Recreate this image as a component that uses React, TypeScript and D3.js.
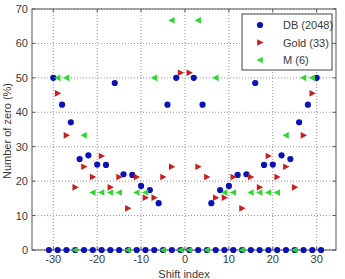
import React from "react";
import * as d3 from "d3";

const dbIdx = [-30, -28, -26, -24, -22, -20, -18, -16, -14, -12, -10, -8, -6, -4, -2, 2, 4, 6, 8, 10, 12, 14, 16, 18, 20, 22, 24, 26, 28, 30];
const dbVals = [50, 42.2, 37.1, 26.4, 27.5, 24.8, 24.7, 48.5, 22.0, 21.8, 18.6, 17.4, 13.6, 42.2, 50, 50, 42.2, 13.6, 17.4, 18.6, 21.8, 22.0, 48.5, 24.7, 24.8, 27.5, 26.4, 37.1, 42.2, 50];
const dbZeroIdx = [-31, -29, -27, -25, -23, -21, -19, -17, -15, -13, -11, -9, -7, -5, -3, -1, 1, 3, 5, 7, 9, 11, 13, 15, 17, 19, 21, 23, 25, 27, 29, 31];

const goldIdx = [-29, -27, -25, -23, -21, -19, -17, -15, -13, -11, -9, -7, -5, -3, -1, 1, 3, 5, 7, 9, 11, 13, 15, 17, 19, 21, 23, 25, 27, 29];
const goldVals = [45.5, 33.3, 18.2, 24.2, 21.2, 27.3, 18.2, 21.2, 12.1, 21.2, 15.2, 15.2, 21.2, 24.2, 51.5, 51.5, 24.2, 21.2, 15.2, 15.2, 21.2, 12.1, 21.2, 18.2, 27.3, 21.2, 24.2, 18.2, 33.3, 45.5];

const mIdx = [-29, -27, -25, -23, -21, -19, -17, -15, -13, -11, -9, -7, -5, -3, -1, 1, 3, 5, 7, 9, 11, 13, 15, 17, 19, 21, 23, 25, 27, 29];
const mVals = [50, 50, 0, 33.3, 16.7, 16.7, 16.7, 16.7, 0, 16.7, 16.7, 50, 0, 66.7, 0, 0, 66.7, 0, 50, 16.7, 16.7, 0, 16.7, 16.7, 16.7, 16.7, 33.3, 0, 50, 50];

const xTicks = [-30, -20, -10, 0, 10, 20, 30];
const yTicks = [0, 10, 20, 30, 40, 50, 60, 70];
const legendLabels = ["DB (2048)", "Gold (33)", "M (6)"];

const BLUE = "#0a12b8";
const RED = "#c81e1e";
const GREEN = "#2ed82e";

const L = 32, R = 336, T = 9, B = 250;
const font = "'Liberation Sans', Arial, Helvetica, sans-serif";

const Dot = ({ x, y }: { x: number; y: number }) => <circle cx={x} cy={y} r={3.1} fill={BLUE} />;
const TriR = ({ x, y }: { x: number; y: number }) => (
  <path d={`M${x - 2.8},${y - 3.3}L${x + 3.5},${y}L${x - 2.8},${y + 3.3}Z`} fill={RED} />
);
const TriL = ({ x, y }: { x: number; y: number }) => (
  <path d={`M${x + 2.8},${y - 3.3}L${x - 3.5},${y}L${x + 2.8},${y + 3.3}Z`} fill={GREEN} />
);

export default function App() {
  const x = d3.scaleLinear().domain([-34.85, 34.4]).range([L, R]);
  const y = d3.scaleLinear().domain([0, 70]).range([B, T]);
  const axisColor = "#555";
  const textColor = "#3a3a3a";
  const tl = 3;
  return (
    <svg width={345} height={279} style={{ position: "absolute", left: 0, top: 0, background: "#fff" }}>
      <rect x={0} y={0} width={345} height={279} fill="#fff" />
      {xTicks.map((t) => (
        <line key={"gx" + t} x1={x(t)} x2={x(t)} y1={T} y2={B} stroke="#777" strokeWidth={0.8} strokeDasharray="1,2" />
      ))}
      {yTicks.map((t) => (
        <line key={"gy" + t} x1={L} x2={R} y1={y(t)} y2={y(t)} stroke="#777" strokeWidth={0.8} strokeDasharray="1,2" />
      ))}
      <rect x={L} y={T} width={R - L} height={B - T} fill="none" stroke={axisColor} strokeWidth={1} />
      {xTicks.map((t) => (
        <g key={"tx" + t}>
          <line x1={x(t)} x2={x(t)} y1={B} y2={B - tl} stroke={axisColor} />
          <line x1={x(t)} x2={x(t)} y1={T} y2={T + tl} stroke={axisColor} />
          <text x={x(t)} y={B + 13} textAnchor="middle" fontFamily={font} fontSize={11} fill={textColor}>
            {t}
          </text>
        </g>
      ))}
      {yTicks.map((t) => (
        <g key={"ty" + t}>
          <line x1={L} x2={L + tl} y1={y(t)} y2={y(t)} stroke={axisColor} />
          <line x1={R} x2={R - tl} y1={y(t)} y2={y(t)} stroke={axisColor} />
          <text x={L - 4} y={y(t) + 4} textAnchor="end" fontFamily={font} fontSize={11} fill={textColor}>
            {t}
          </text>
        </g>
      ))}
      <text x={184} y={278} textAnchor="middle" fontFamily={font} fontSize={11} fill={textColor}>
        Shift index
      </text>
      <text transform={`translate(11,131) rotate(-90)`} textAnchor="middle" fontFamily={font} fontSize={11} fill={textColor}>
        Number of zero (%)
      </text>
      {dbZeroIdx.map((i) => (
        <Dot key={"dz" + i} x={x(i)} y={y(0)} />
      ))}
      {dbIdx.map((i, k) => (
        <Dot key={"d" + i} x={x(i)} y={y(dbVals[k])} />
      ))}
      {goldIdx.map((i, k) => (
        <TriR key={"g" + i} x={x(i)} y={y(goldVals[k])} />
      ))}
      {mIdx.map((i, k) => (
        <TriL key={"m" + i} x={x(i)} y={y(mVals[k])} />
      ))}
      <rect x={242} y={14} width={90} height={56} fill="#fff" stroke="#444" strokeWidth={1} />
      {legendLabels.map((lab, k) => {
        const ly = 25 + k * 17.5;
        return (
          <g key={lab}>
            {k === 0 && <Dot x={260} y={ly} />}
            {k === 1 && <TriR x={260} y={ly} />}
            {k === 2 && <TriL x={260} y={ly} />}
            <text x={283} y={ly + 4} fontFamily={font} fontSize={11} fill={textColor}>
              {lab}
            </text>
          </g>
        );
      })}
    </svg>
  );
}
